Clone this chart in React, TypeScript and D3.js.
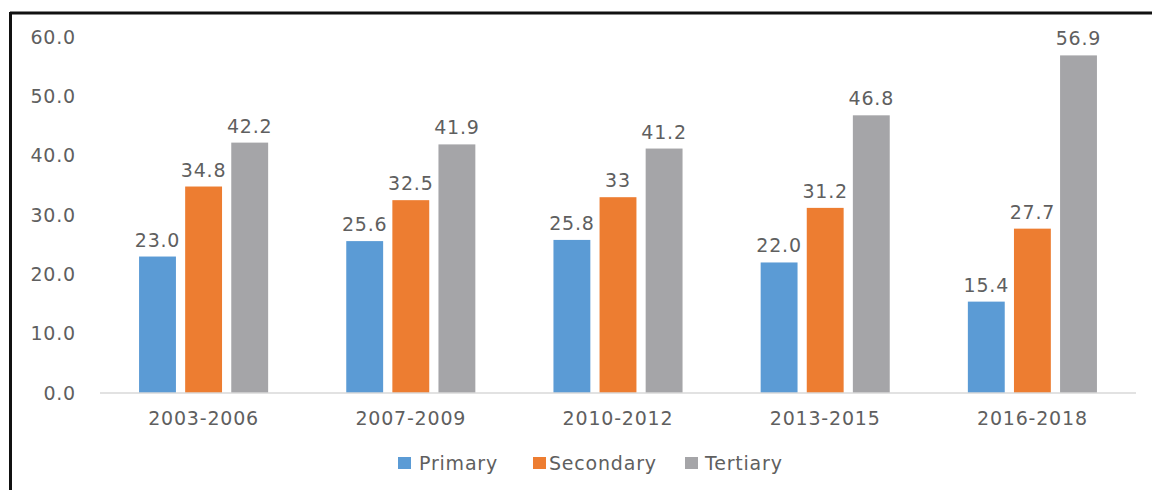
import React from "react";
import * as d3 from "d3";

const categories = ["2003-2006", "2007-2009", "2010-2012", "2013-2015", "2016-2018"];
const seriesNames = ["Primary", "Secondary", "Tertiary"];
const primary = [23.0, 25.6, 25.8, 22.0, 15.4];
const secondary = [34.8, 32.5, 33, 31.2, 27.7];
const tertiary = [42.2, 41.9, 41.2, 46.8, 56.9];
const primaryLabels = ["23.0", "25.6", "25.8", "22.0", "15.4"];
const secondaryLabels = ["34.8", "32.5", "33", "31.2", "27.7"];
const tertiaryLabels = ["42.2", "41.9", "41.2", "46.8", "56.9"];
const yTicks = [0, 10, 20, 30, 40, 50, 60];
const colors = ["#5B9BD5", "#ED7D31", "#A5A5A8"];

const W = 1152;
const H = 490;
const FONT = "'DejaVu Sans', Verdana, sans-serif";
const TEXT = "#5f5f5f";
const FS = 19;
const LS = 0.8;

export default function App() {
  const values = [primary, secondary, tertiary];
  const labels = [primaryLabels, secondaryLabels, tertiaryLabels];
  const y = d3.scaleLinear().domain([0, 60]).range([393, 37]);
  const x0 = d3
    .scaleBand<string>()
    .domain(categories)
    .range([100, 1136])
    .paddingInner(0.377)
    .paddingOuter(0.1885);
  const x1 = d3
    .scaleBand<string>()
    .domain(seriesNames)
    .range([0, x0.bandwidth()])
    .paddingInner(0.2);

  const legendItems = [
    { x: 398, textX: 419 },
    { x: 533, textX: 549 },
    { x: 685, textX: 705 },
  ];

  return (
    <svg
      width={W}
      height={H}
      style={{ position: "absolute", left: 0, top: 0, background: "#fff" }}
      fontFamily={FONT}
      letterSpacing={LS}
    >
      <rect x={0} y={0} width={W} height={H} fill="#fff" />
      {/* frame */}
      <line x1={10} y1={13} x2={W} y2={13} stroke="#111" strokeWidth={3} />
      <line x1={10.5} y1={12} x2={10.5} y2={H} stroke="#111" strokeWidth={3} />

      {/* y tick labels */}
      {yTicks.map((t) => (
        <text
          key={t}
          x={76}
          y={y(t)}
          dy="0.35em"
          textAnchor="end"
          fontSize={FS}
          fill={TEXT}
        >
          {t.toFixed(1)}
        </text>
      ))}

      {/* bars */}
      {categories.map((c, i) => (
        <g key={c} transform={`translate(${x0(c)},0)`}>
          {seriesNames.map((s, j) => {
            const v = values[j][i];
            const bx = x1(s) as number;
            return (
              <g key={s}>
                <rect
                  x={bx}
                  y={y(v)}
                  width={x1.bandwidth()}
                  height={y(0) - y(v)}
                  fill={colors[j]}
                />
                <text
                  x={bx + x1.bandwidth() / 2}
                  y={y(v) - 10}
                  textAnchor="middle"
                  fontSize={FS}
                  fill={TEXT}
                >
                  {labels[j][i]}
                </text>
              </g>
            );
          })}
        </g>
      ))}

      {/* baseline */}
      <line x1={100} y1={y(0)} x2={1136} y2={y(0)} stroke="#d9d9d9" strokeWidth={1.5} />

      {/* category labels */}
      {categories.map((c) => (
        <text
          key={c}
          x={(x0(c) as number) + x0.bandwidth() / 2}
          y={425}
          textAnchor="middle"
          fontSize={FS}
          fill={TEXT}
        >
          {c}
        </text>
      ))}

      {/* legend */}
      {seriesNames.map((s, j) => (
        <g key={s}>
          <rect x={legendItems[j].x} y={457} width={13} height={12} fill={colors[j]} />
          <text x={legendItems[j].textX} y={470} fontSize={FS} fill={TEXT}>
            {s}
          </text>
        </g>
      ))}
    </svg>
  );
}
